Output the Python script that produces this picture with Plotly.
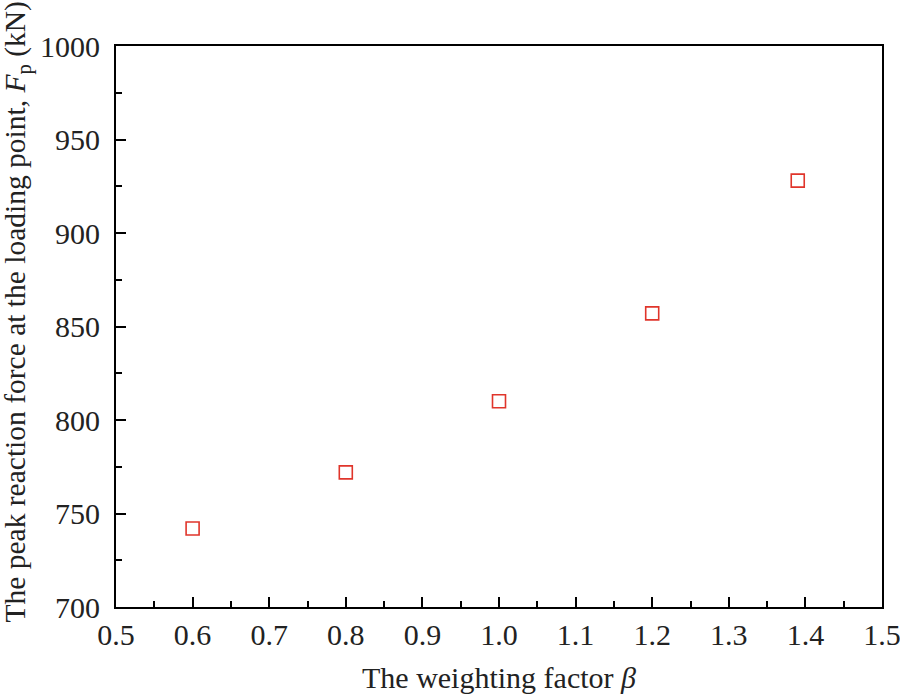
import plotly.graph_objects as go

# weighting factor beta vs peak reaction force at loading point (kN)
beta = [0.6, 0.8, 1.0, 1.2, 1.39]
peak_force = [742, 772, 810, 857, 928]

RED = "#e0352b"
FONT = "Liberation Serif"
TEXT_COLOR = "#222"

fig = go.Figure()
fig.add_trace(
    go.Scatter(
        x=beta,
        y=peak_force,
        mode="markers",
        marker={
            "symbol": "square-open",
            "size": 13,
            "color": RED,
            "line": {"width": 1.6, "color": RED},
        },
        showlegend=False,
    )
)

axis_common = dict(
    showline=True,
    linecolor="black",
    linewidth=2,
    mirror=True,
    ticks="inside",
    ticklen=10,
    tickwidth=2,
    tickcolor="black",
    showgrid=False,
    zeroline=False,
    automargin=False,
    ticklabeloverflow="allow",
    tickfont={"family": FONT, "size": 30, "color": TEXT_COLOR},
)

fig.update_xaxes(
    range=[0.5, 1.5],
    dtick=0.1,
    tick0=0.5,
    tickformat=".1f",
    minor={"dtick": 0.05, "ticks": "inside", "ticklen": 6, "tickwidth": 2,
           "tickcolor": "black"},
    title={"text": "The weighting factor <i>β</i>",
           "font": {"family": FONT, "size": 30, "color": TEXT_COLOR},
           "standoff": 17},
    **axis_common,
)
fig.update_yaxes(
    range=[700, 1000],
    dtick=50,
    tick0=700,
    ticklabelstandoff=8,
    minor={"dtick": 25, "ticks": "inside", "ticklen": 6, "tickwidth": 2,
           "tickcolor": "black"},
    **axis_common,
)

# y title as an annotation: in the original it sits a little above centre
fig.add_annotation(
    text="The peak reaction force at the loading point, <i>F</i><sub>p</sub> (kN)",
    xref="paper",
    yref="paper",
    x=0,
    y=0.5,
    xshift=-99,
    yshift=14,
    xanchor="center",
    yanchor="middle",
    textangle=-90,
    showarrow=False,
    font={"family": FONT, "size": 29.5, "color": TEXT_COLOR},
)

fig.update_layout(
    width=900,
    height=694,
    margin={"l": 116, "r": 18, "t": 46, "b": 87},
    plot_bgcolor="white",
    paper_bgcolor="white",
)

# drop the default 8px body margin so the figure fills the window exactly
fig.write_html(
    "out.html",
    config={"displayModeBar": False},
    post_script="document.body.style.margin = '0';",
)
